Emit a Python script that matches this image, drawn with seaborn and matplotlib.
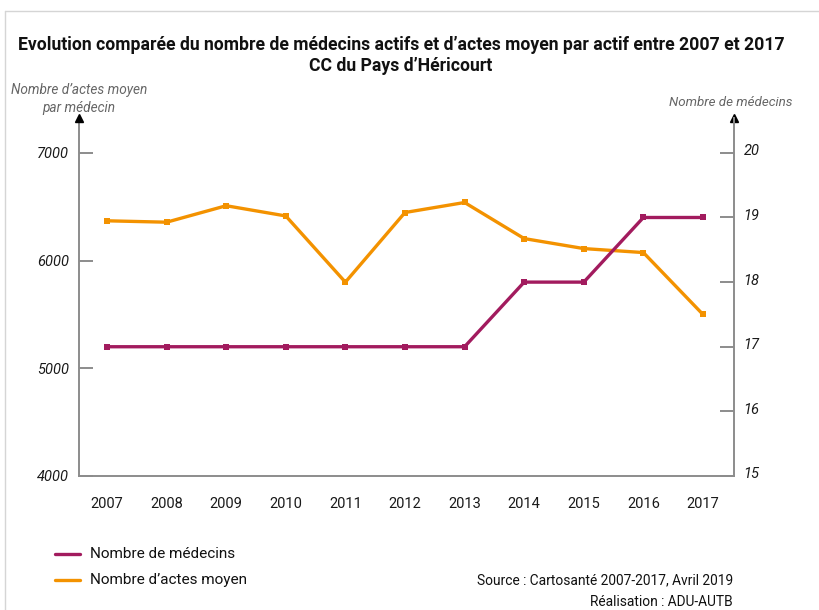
import matplotlib
matplotlib.use("Agg")
import matplotlib.pyplot as plt
from matplotlib.lines import Line2D
import matplotlib.transforms as mtransforms
import seaborn as sns
import pandas as pd

# Data
years = ["2007", "2008", "2009", "2010", "2011", "2012", "2013", "2014", "2015", "2016", "2017"]
actes_moyen = [6370, 6357, 6510, 6415, 5800, 6447, 6540, 6205, 6112, 6075, 5500]
nb_medecins = [17, 17, 17, 17, 17, 17, 17, 18, 18, 19, 19]
left_ticks = [4000, 5000, 6000, 7000]
right_ticks = [15, 16, 17, 18, 19, 20]

sns.set_theme(style="white")
FONT = ["Roboto", "DejaVu Sans"]
plt.rcParams["font.family"] = FONT

PURPLE = "#A21B5E"
ORANGE = "#F39200"
GREY = "#8C8C8C"

df = pd.DataFrame({"pos": range(len(years)), "annee": years,
                   "actes": actes_moyen, "medecins": nb_medecins})

fig = plt.figure(figsize=(8.2, 6.1), dpi=100)
ax = fig.add_axes([0.0963, 0.2197, 0.7988, 0.5869])
ax2 = ax.twinx()

sns.lineplot(data=df, x="pos", y="actes", ax=ax, color=ORANGE, linewidth=2.4,
             marker="s", markersize=4.5, markeredgewidth=0, zorder=3)
sns.lineplot(data=df, x="pos", y="medecins", ax=ax2, color=PURPLE, linewidth=2.4,
             marker="s", markersize=4.5, markeredgewidth=0, zorder=3)

ax.set_xlim(-0.47, 10.52)
ax.set_ylim(4000, 7325)
ax2.set_ylim(15, 20.54)

ax.set_xticks(range(len(years)))
ax.set_xticklabels(years)
ax.set_yticks(left_ticks)
ax.set_yticklabels([str(v) for v in left_ticks])
ax2.set_yticks(right_ticks)
ax2.set_yticklabels([str(v) for v in right_ticks])

for a in (ax, ax2):
    a.set_xlabel("")
    a.set_ylabel("")
    a.grid(False)
    for side, sp in a.spines.items():
        sp.set_visible(False)

ax.spines["left"].set_visible(True)
ax.spines["bottom"].set_visible(True)
ax2.spines["right"].set_visible(True)
for sp in (ax.spines["left"], ax.spines["bottom"], ax2.spines["right"]):
    sp.set_color(GREY)
    sp.set_linewidth(1.4)

ax.tick_params(axis="y", direction="in", length=10, width=1.4, color=GREY,
               pad=7, labelsize=10.5, labelcolor="#1a1a1a", left=True)
ax2.tick_params(axis="y", direction="in", length=10, width=1.4, color=GREY,
                pad=7, labelsize=10.5, labelcolor="#1a1a1a", right=True)
ax.tick_params(axis="x", length=0, pad=15, labelsize=10.5, labelcolor="#1a1a1a")
for lab in ax.get_yticklabels() + ax2.get_yticklabels():
    lab.set_fontstyle("italic")
# right-hand labels sit slightly above their ticks
lift = mtransforms.ScaledTranslation(0, 3 / 100, fig.dpi_scale_trans)
for lab in ax2.get_yticklabels():
    lab.set_transform(lab.get_transform() + lift)

# Arrow heads at the top of both vertical axes
ax.plot([0], [1], marker="^", color="black", markersize=5.5, transform=ax.transAxes,
        clip_on=False, zorder=5)
ax.plot([1], [1], marker="^", color="black", markersize=5.5, transform=ax.transAxes,
        clip_on=False, zorder=5)

# Axis titles
fig.text(79 / 820, 1 - 90 / 610, "Nombre d\u2019actes moyen", ha="center", va="center",
         fontsize=9.8, style="italic", color="#666666")
fig.text(79 / 820, 1 - 108 / 610, "par médecin", ha="center", va="center",
         fontsize=9.8, style="italic", color="#666666")
fig.text(731 / 820, 1 - 103 / 610, "Nombre de médecins", ha="center", va="center",
         fontsize=9.6, style="italic", color="#666666")

# Title
fig.text(401 / 820, 1 - 45 / 610,
         "Evolution comparée du nombre de médecins actifs et d\u2019actes moyen par actif entre 2007 et 2017",
         ha="center", va="center", fontsize=12.7, fontweight="bold", color="#111111")
fig.text(401 / 820, 1 - 66 / 610, "CC du Pays d\u2019Héricourt",
         ha="center", va="center", fontsize=12.7, fontweight="bold", color="#111111")

# Legend
fig.lines.append(Line2D([55 / 820, 80 / 820], [1 - 554 / 610] * 2, color=PURPLE,
                        linewidth=2.4, transform=fig.transFigure))
fig.lines.append(Line2D([55 / 820, 80 / 820], [1 - 580 / 610] * 2, color=ORANGE,
                        linewidth=2.4, transform=fig.transFigure))
fig.text(90 / 820, 1 - 554 / 610, "Nombre de médecins", ha="left", va="center",
         fontsize=11, color="#111111")
fig.text(90 / 820, 1 - 580 / 610, "Nombre d\u2019actes moyen", ha="left", va="center",
         fontsize=11, color="#111111")

# Source
fig.text(733 / 820, 1 - 580 / 610, "Source : Cartosanté 2007-2017, Avril 2019",
         ha="right", va="center", fontsize=9.9, color="#111111")
fig.text(733 / 820, 1 - 602 / 610, "Réalisation : ADU-AUTB",
         ha="right", va="center", fontsize=9.9, color="#111111")

# Frame edges
fig.lines.append(Line2D([5 / 820, 5 / 820], [0, 1 - 11 / 610], color="#D5D5D5",
                        linewidth=1, transform=fig.transFigure))
fig.lines.append(Line2D([5 / 820, 1], [1 - 11 / 610] * 2, color="#D5D5D5",
                        linewidth=1, transform=fig.transFigure))

fig.savefig("out.png", dpi=100)
